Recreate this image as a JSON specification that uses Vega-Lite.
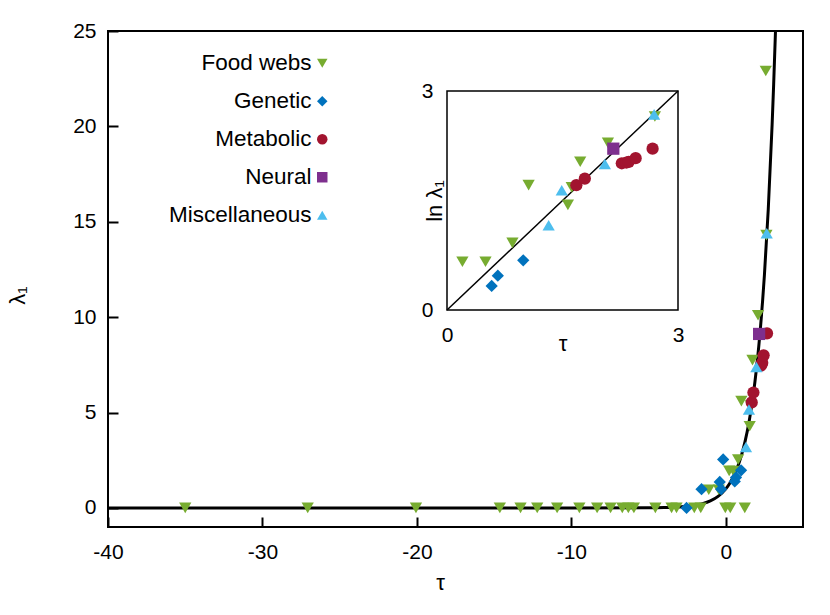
{
  "$schema": "https://vega.github.io/schema/vega-lite/v6.json",
  "width": 695,
  "height": 496,
  "autosize": {"type": "none"},
  "padding": {"left": 108, "top": 31, "right": 27, "bottom": 88},
  "background": "white",
  "config": {
    "font": "Liberation Sans",
    "view": {"stroke": "black", "strokeWidth": 2},
    "axis": {"grid": false, "labelFlush": false, "labelFont": "Liberation Sans", "titleFont": "Liberation Sans", "labelFontSize": 21, "titleFontSize": 22, "labelColor": "black", "titleColor": "black", "titleFontWeight": "normal", "tickColor": "black", "domainColor": "black"},
    "legend": {"labelFont": "Liberation Sans", "labelFontSize": 22.5, "labelColor": "black"}
  },
  "datasets": {
    "curve": [
      {"tau": -40, "lambda": 0.0}, {"tau": -10, "lambda": 0.0000454}, {"tau": -5, "lambda": 0.0067},
      {"tau": -4, "lambda": 0.0183}, {"tau": -3, "lambda": 0.0498}, {"tau": -2.5, "lambda": 0.0821},
      {"tau": -2, "lambda": 0.1353}, {"tau": -1.5, "lambda": 0.2231}, {"tau": -1, "lambda": 0.3679},
      {"tau": -0.5, "lambda": 0.6065}, {"tau": 0, "lambda": 1.0}, {"tau": 0.25, "lambda": 1.284},
      {"tau": 0.5, "lambda": 1.6487}, {"tau": 0.75, "lambda": 2.117}, {"tau": 1, "lambda": 2.7183},
      {"tau": 1.25, "lambda": 3.4903}, {"tau": 1.5, "lambda": 4.4817}, {"tau": 1.75, "lambda": 5.7546},
      {"tau": 2, "lambda": 7.3891}, {"tau": 2.25, "lambda": 9.4877}, {"tau": 2.5, "lambda": 12.1825},
      {"tau": 2.75, "lambda": 15.6426}, {"tau": 3, "lambda": 20.0855}, {"tau": 3.1, "lambda": 22.198},
      {"tau": 3.2189, "lambda": 25.0}
    ],
    "main": [
      {"tau": -35.0, "lambda": 0, "type": "Food webs"},
      {"tau": -27.07, "lambda": 0, "type": "Food webs"},
      {"tau": -20.06, "lambda": 0, "type": "Food webs"},
      {"tau": -14.63, "lambda": 0, "type": "Food webs"},
      {"tau": -13.29, "lambda": 0, "type": "Food webs"},
      {"tau": -12.21, "lambda": 0, "type": "Food webs"},
      {"tau": -10.92, "lambda": 0, "type": "Food webs"},
      {"tau": -9.48, "lambda": 0, "type": "Food webs"},
      {"tau": -8.33, "lambda": 0, "type": "Food webs"},
      {"tau": -7.46, "lambda": 0, "type": "Food webs"},
      {"tau": -6.70, "lambda": 0, "type": "Food webs"},
      {"tau": -6.31, "lambda": 0, "type": "Food webs"},
      {"tau": -5.95, "lambda": 0, "type": "Food webs"},
      {"tau": -4.56, "lambda": 0, "type": "Food webs"},
      {"tau": -3.51, "lambda": 0, "type": "Food webs"},
      {"tau": -3.19, "lambda": 0, "type": "Food webs"},
      {"tau": -2.04, "lambda": 0, "type": "Food webs"},
      {"tau": -1.62, "lambda": 0, "type": "Food webs"},
      {"tau": -0.03, "lambda": 0, "type": "Food webs"},
      {"tau": 0.29, "lambda": 0, "type": "Food webs"},
      {"tau": 1.23, "lambda": 0, "type": "Food webs"},
      {"tau": -1.1, "lambda": 0.95, "type": "Food webs"},
      {"tau": -0.45, "lambda": 0.95, "type": "Food webs"},
      {"tau": 0.22, "lambda": 1.94, "type": "Food webs"},
      {"tau": 0.5, "lambda": 1.93, "type": "Food webs"},
      {"tau": 0.8, "lambda": 2.54, "type": "Food webs"},
      {"tau": 1.01, "lambda": 5.6, "type": "Food webs"},
      {"tau": 1.55, "lambda": 4.28, "type": "Food webs"},
      {"tau": 1.62, "lambda": 5.37, "type": "Food webs"},
      {"tau": 1.73, "lambda": 7.75, "type": "Food webs"},
      {"tau": 2.09, "lambda": 10.1, "type": "Food webs"},
      {"tau": 2.63, "lambda": 14.3, "type": "Food webs"},
      {"tau": 2.59, "lambda": 22.9, "type": "Food webs"},
      {"tau": -2.54, "lambda": 0, "type": "Genetic"},
      {"tau": -1.57, "lambda": 0.98, "type": "Genetic"},
      {"tau": -0.39, "lambda": 1.36, "type": "Genetic"},
      {"tau": -0.3, "lambda": 0.98, "type": "Genetic"},
      {"tau": -0.17, "lambda": 2.54, "type": "Genetic"},
      {"tau": 0.58, "lambda": 1.39, "type": "Genetic"},
      {"tau": 0.66, "lambda": 1.6, "type": "Genetic"},
      {"tau": 0.99, "lambda": 1.97, "type": "Genetic"},
      {"tau": 1.68, "lambda": 5.53, "type": "Metabolic"},
      {"tau": 1.79, "lambda": 6.05, "type": "Metabolic"},
      {"tau": 2.27, "lambda": 7.46, "type": "Metabolic"},
      {"tau": 2.33, "lambda": 7.54, "type": "Metabolic"},
      {"tau": 2.36, "lambda": 7.61, "type": "Metabolic"},
      {"tau": 2.45, "lambda": 8.0, "type": "Metabolic"},
      {"tau": 2.67, "lambda": 9.15, "type": "Metabolic"},
      {"tau": 2.16, "lambda": 9.12, "type": "Neural"},
      {"tau": 1.31, "lambda": 3.19, "type": "Miscellaneous"},
      {"tau": 1.5, "lambda": 5.16, "type": "Miscellaneous"},
      {"tau": 1.98, "lambda": 7.39, "type": "Miscellaneous"},
      {"tau": 2.65, "lambda": 14.4, "type": "Miscellaneous"}
    ],
    "diag": [{"tau": 0, "ln": 0}, {"tau": 3, "ln": 3}],
    "inset": [
      {"tau": 0.20, "ln": 0.66, "type": "Food webs"},
      {"tau": 0.50, "ln": 0.66, "type": "Food webs"},
      {"tau": 0.85, "ln": 0.92, "type": "Food webs"},
      {"tau": 1.06, "ln": 1.71, "type": "Food webs"},
      {"tau": 1.57, "ln": 1.44, "type": "Food webs"},
      {"tau": 1.62, "ln": 1.68, "type": "Food webs"},
      {"tau": 1.73, "ln": 2.03, "type": "Food webs"},
      {"tau": 2.09, "ln": 2.29, "type": "Food webs"},
      {"tau": 2.70, "ln": 2.65, "type": "Food webs"},
      {"tau": 0.58, "ln": 0.33, "type": "Genetic"},
      {"tau": 0.66, "ln": 0.47, "type": "Genetic"},
      {"tau": 0.99, "ln": 0.68, "type": "Genetic"},
      {"tau": 1.68, "ln": 1.71, "type": "Metabolic"},
      {"tau": 1.79, "ln": 1.80, "type": "Metabolic"},
      {"tau": 2.27, "ln": 2.01, "type": "Metabolic"},
      {"tau": 2.33, "ln": 2.02, "type": "Metabolic"},
      {"tau": 2.36, "ln": 2.03, "type": "Metabolic"},
      {"tau": 2.45, "ln": 2.08, "type": "Metabolic"},
      {"tau": 2.67, "ln": 2.21, "type": "Metabolic"},
      {"tau": 2.16, "ln": 2.21, "type": "Neural"},
      {"tau": 1.32, "ln": 1.16, "type": "Miscellaneous"},
      {"tau": 1.49, "ln": 1.64, "type": "Miscellaneous"},
      {"tau": 2.05, "ln": 2.0, "type": "Miscellaneous"},
      {"tau": 2.69, "ln": 2.68, "type": "Miscellaneous"}
    ]
  },
  "layer": [
    {
      "layer": [
        {
          "data": {"name": "curve"},
          "mark": {"type": "line", "color": "black", "strokeWidth": 3, "interpolate": "monotone"},
          "encoding": {
            "x": {"field": "tau", "type": "quantitative", "scale": {"domain": [-40, 5], "nice": false, "zero": false},
              "axis": {"orient": "bottom", "values": [-40, -30, -20, -10, 0], "labelExpr": "datum.value + ''", "title": "τ", "titleX": 332, "domain": false, "ticks": false, "labelPadding": 14, "titlePadding": 10}},
            "y": {"field": "lambda", "type": "quantitative", "scale": {"domain": [-1, 25], "nice": false, "zero": false},
              "axis": {"orient": "left", "values": [0, 5, 10, 15, 20, 25], "title": "λ₁", "titleY": 264, "domain": false, "ticks": false, "labelPadding": 12, "titlePadding": 43}}
          }
        },
        {
          "data": {"name": "main"},
          "mark": {"type": "point", "filled": true, "opacity": 1, "size": 150},
          "encoding": {
            "x": {"field": "tau", "type": "quantitative",
              "axis": {"orient": "top", "offset": -496, "values": [-40, -30, -20, -10, 0], "labels": false, "domain": false, "title": null, "ticks": true, "tickSize": 10, "tickWidth": 2, "tickColor": "black", "zindex": 2}},
            "y": {"field": "lambda", "type": "quantitative",
              "axis": {"orient": "right", "offset": -695, "values": [0, 5, 10, 15, 20, 25], "labels": false, "domain": false, "title": null, "ticks": true, "tickSize": 10, "tickWidth": 2, "tickColor": "black", "zindex": 2}},
            "color": {"field": "type", "type": "nominal",
              "scale": {"domain": ["Food webs", "Genetic", "Metabolic", "Neural", "Miscellaneous"], "range": ["#77AC30", "#0072BD", "#A2142F", "#7E2F8E", "#4DBEEE"]},
              "legend": {"title": null, "orient": "none", "legendX": 203, "legendY": 21, "direction": "vertical", "labelAlign": "right", "labelOffset": -22, "symbolSize": 110, "rowPadding": 15, "symbolStrokeWidth": 0}},
            "shape": {"field": "type", "type": "nominal",
              "scale": {"domain": ["Food webs", "Genetic", "Metabolic", "Neural", "Miscellaneous"], "range": ["triangle-down", "diamond", "circle", "square", "triangle-up"]},
              "legend": {"title": null, "orient": "none", "legendX": 203, "legendY": 21, "direction": "vertical", "labelAlign": "right", "labelOffset": -22, "symbolSize": 110, "rowPadding": 15, "symbolStrokeWidth": 0}}
          }
        }
      ],
      "resolve": {"axis": {"x": "independent", "y": "independent"}}
    },
    {
      "layer": [
        {
          "data": {"values": [{}]},
          "mark": {"type": "rect", "fill": "white", "fillOpacity": 0, "stroke": "black", "strokeWidth": 1.5},
          "encoding": {
            "x": {"datum": 0, "type": "quantitative", "scale": {"domain": [0, 3], "range": [339, 570], "nice": false, "zero": false},
              "axis": {"orient": "bottom", "offset": -217, "values": [0, 3], "format": "d", "domain": false, "ticks": false, "labelPadding": 14, "title": "τ", "titlePadding": -12}},
            "x2": {"datum": 3},
            "y": {"datum": 0, "type": "quantitative", "scale": {"domain": [0, 3], "range": [279, 60], "nice": false, "zero": false},
              "axis": {"orient": "left", "offset": -339, "values": [0, 3], "format": "d", "domain": false, "ticks": false, "labelPadding": 14, "title": "ln λ₁", "titlePadding": -25}},
            "y2": {"datum": 3}
          }
        },
        {
          "data": {"name": "diag"},
          "mark": {"type": "line", "color": "black", "strokeWidth": 1.5},
          "encoding": {
            "x": {"field": "tau", "type": "quantitative"},
            "y": {"field": "ln", "type": "quantitative"}
          }
        },
        {
          "data": {"name": "inset"},
          "mark": {"type": "point", "filled": true, "opacity": 1, "size": 150},
          "encoding": {
            "x": {"field": "tau", "type": "quantitative"},
            "y": {"field": "ln", "type": "quantitative"},
            "color": {"field": "type", "type": "nominal", "legend": null},
            "shape": {"field": "type", "type": "nominal", "legend": null}
          }
        }
      ]
    }
  ],
  "resolve": {"scale": {"x": "independent", "y": "independent"}, "axis": {"x": "independent", "y": "independent"}}
}
